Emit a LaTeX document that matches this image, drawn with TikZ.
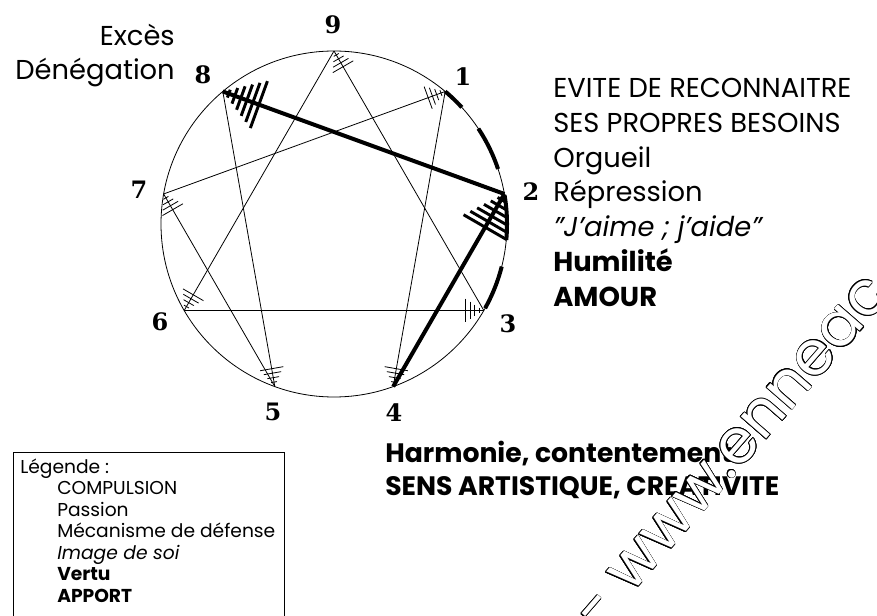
\documentclass[tikz,border=0pt]{standalone}
\usepackage{fontspec}
\setmainfont{Poppins}
\newfontfamily\chiffre{DejaVu Serif}
\usepackage{contour}
\contourlength{0.5pt}
\usetikzlibrary{calc}

\newcommand{\hachure}[5]{%
  \foreach \k in {1,...,#3}{
    \coordinate (h) at ($(#2)!{\k*#4}!(#1)$);
    \draw [line width=#5] ($(h)!{\k*#4*0.65}!90:(#2)$) -- ($(h)!{\k*#4*0.65}!-90:(#2)$);
  }%
}

\begin{document}
\begin{tikzpicture}[x=0.75pt,y=-0.75pt,
    trait/.style={line width=0.6pt},
    gras/.style={line width=3pt},
    aile/.style={line width=3pt, dash pattern=on 33.75pt off 20.25pt, dash phase=16.5pt},
    chiffre/.style={font=\chiffre\bfseries\fontsize{18pt}{22pt}\selectfont},
    texte/.style={anchor=base west, align=left, inner sep=0pt}]
    \useasboundingbox (0,0) rectangle (877,616);
    \coordinate (O) at (334,224);
    \draw [trait] (O) circle [radius=173];
    \foreach \n in {1,...,9}
        \coordinate (p\n) at ($(O)+(40*\n-90:173)$);
    % lignes fines
    \draw [trait] (p7) -- (p1); \hachure{p7}{p1}{4}{3.4pt}{0.6pt}
    \draw [trait] (p1) -- (p4); \hachure{p1}{p4}{4}{3.4pt}{0.6pt}
    \draw [trait] (p8) -- (p5); \hachure{p8}{p5}{4}{3.4pt}{0.6pt}
    \draw [trait] (p5) -- (p7); \hachure{p5}{p7}{4}{3.4pt}{0.6pt}
    \draw [trait] (p3) -- (p9); \hachure{p3}{p9}{4}{3.4pt}{0.6pt}
    \draw [trait] (p9) -- (p6); \hachure{p9}{p6}{4}{3.4pt}{0.6pt}
    \draw [trait] (p6) -- (p3); \hachure{p6}{p3}{4}{3.4pt}{0.6pt}
    % type 2
    \draw [gras] (p4) -- (p2); \hachure{p4}{p2}{6}{4.8pt}{2.2pt}
    \draw [gras] (p2) -- (p8); \hachure{p2}{p8}{6}{4.8pt}{2.2pt}
    \draw [aile] (p1) arc [start angle=-50, end angle=30, radius=173];
    % chiffres
    \node [chiffre] (n9) at (333,25) {9};
    \node [chiffre] (n1) at (463,77) {1};
    \node [chiffre] (n2) at (531,192) {2};
    \node [chiffre] (n3) at (508,324) {3};
    \node [chiffre] (n4) at (394,413) {4};
    \node [chiffre] (n5) at (273,412) {5};
    \node [chiffre] (n6) at (160,322) {6};
    \node [chiffre] (n7) at (139,190) {7};
    \node [chiffre] (n8) at (203,75) {8};
    % textes
    \node [texte, align=right, anchor=base east, font=\fontsize{20.5pt}{26pt}\selectfont] (exces) at (175,80) {Excès\\Dénégation};
    \node [texte, font=\fontsize{20.5pt}{26pt}\selectfont] (type2) at (553,306)
        {EVITE DE RECONNAITRE\\SES PROPRES BESOINS\\Orgueil\\Répression\\\textit{"J'aime ; j'aide"}\\\textbf{Humilité}\\\textbf{AMOUR}};
    \node [texte, font=\bfseries\fontsize{20pt}{24.75pt}\selectfont] (apport4) at (385,495)
        {Harmonie, contentement\\SENS ARTISTIQUE, CREATIVITE};
    % legende
    \draw [trait] (13,452) rectangle (284,640);
    \node [texte, font=\fontsize{14pt}{16.1pt}\selectfont] (legende) at (20,473) {Légende :};
    \node [texte, font=\fontsize{14pt}{16.1pt}\selectfont] (cles) at (57,602)
        {COMPULSION\\Passion\\Mécanisme de défense\\\textit{Image de soi}\\\textbf{Vertu}\\\textbf{APPORT}};
    % filigrane
    \node [texte, rotate=49, text=white, font=\fontsize{46pt}{50pt}\selectfont] (filigrane) at (598,633)
        {\contour{black}{- www.enneac}};
\end{tikzpicture}
\end{document}
